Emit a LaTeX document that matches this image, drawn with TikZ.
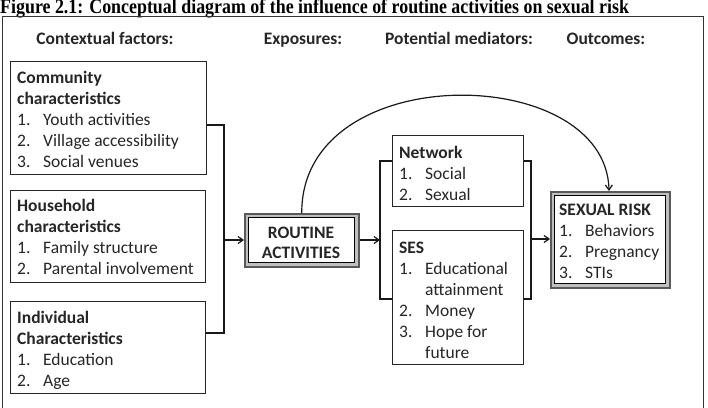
\documentclass[tikz,border=0pt]{standalone}
\usepackage{fontspec}
\setmainfont{Carlito}
\newfontfamily\titlefont{Liberation Serif}
\usetikzlibrary{calc,arrows.meta}
\newcommand\itm[2]{\makebox[26pt][l]{#1}#2}
\newcommand\fl{\rule{0pt}{14pt}}
\tikzset{
  box/.style={draw=black!85,line width=1.2pt,rectangle,inner sep=0pt,anchor=north west},
  txt/.style={inner sep=0pt,anchor=north west,align=left,font=\fontsize{17.5}{21}\selectfont,text=black!85},
  hdr/.style={inner sep=0pt,anchor=base,font=\fontsize{17.5}{21}\selectfont\bfseries,text=black!85},
  conn/.style={draw=black!90,line width=1.2pt},
  arr/.style={conn,-{Straight Barb[length=5pt,width=7pt]}},
  dblout/.style={draw=black!65,fill=black!25,line width=1.5pt,rectangle,inner sep=0pt,anchor=north west},
  dblin/.style={draw=black,fill=white,line width=1pt,rectangle,inner sep=0pt,anchor=center}
}
\begin{document}
\begin{tikzpicture}[x=1pt,y=-1pt]
\clip (0,0) rectangle (708,407);
\fill[white] (0,0) rectangle (708,407);
% title
\node[inner sep=0pt,anchor=base west,font=\titlefont\bfseries\fontsize{17.9}{20}\selectfont,yscale=1.15] (title) at (0,13) {Figure 2.1: Conceptual diagram of the influence of routine activities on sexual risk};
% frame
\node[draw=black!80,line width=1.2pt,rectangle,inner sep=0pt,anchor=north west,minimum width=701,minimum height=420] (frame) at (2,16) {};
% headers
\node[hdr] (h1) at (105,44) {Contextual factors:};
\node[hdr] (h2) at (303,44) {Exposures:};
\node[hdr] (h3) at (459,44) {Potential mediators:};
\node[hdr] (h4) at (606,44) {Outcomes:};
% left boxes
\node[box,minimum width=196,minimum height=113] (comm) at (10,61) {};
\node[txt] (commT) at (17,69) {\fl\textbf{Community}\\\textbf{characteristics}\\\itm{1.}{Youth activities}\\\itm{2.}{Village accessibility}\\\itm{3.}{Social venues}};
\node[box,minimum width=195,minimum height=92] (house) at (10,190) {};
\node[txt] (houseT) at (17,197) {\fl\textbf{Household}\\\textbf{characteristics}\\\itm{1.}{Family structure}\\\itm{2.}{Parental involvement}};
\node[box,minimum width=195,minimum height=92] (indiv) at (10,301) {};
\node[txt] (indivT) at (17,309) {\fl\textbf{Individual}\\\textbf{Characteristics}\\\itm{1.}{Education}\\\itm{2.}{Age}};
% routine activities
\node[dblout,minimum width=114,minimum height=53] (routO) at (244,213) {};
\node[dblin,minimum width=106,minimum height=45] (rout) at (routO.center) {};
\node[inner sep=0pt,anchor=north,align=center,font=\fontsize{17.5}{20}\selectfont\bfseries,text=black!85] (routT) at (301,224) {\fl ROUTINE\\ACTIVITIES};
% mediators
\node[box,minimum width=131,minimum height=71] (net) at (392,135) {};
\node[txt] (netT) at (399,144) {\fl\textbf{Network}\\\itm{1.}{Social}\\\itm{2.}{Sexual}};
\node[box,minimum width=131,minimum height=134] (ses) at (392,230) {};
\node[txt] (sesT) at (399,239) {\fl\textbf{SES}\\\itm{1.}{Educational}\\\itm{}{attainment}\\\itm{2.}{Money}\\\itm{3.}{Hope for}\\\itm{}{future}};
% outcome
\node[dblout,minimum width=119,minimum height=96] (riskO) at (550,191) {};
\node[dblin,minimum width=111,minimum height=88] (risk) at (riskO.center) {};
\node[txt] (riskT) at (559,201) {\fl\textbf{SEXUAL RISK}\\\itm{1.}{Behaviors}\\\itm{2.}{Pregnancy}\\\itm{3.}{STIs}};
% connectors
\coordinate (b1) at (224,240);
\draw[conn] (comm.east |- 0,125) -| (b1) |- (indiv.east |- 0,333);
\draw[arr] (b1) -- (routO.west |- b1);
\coordinate (b2) at (380,240);
\draw[conn] (net.west |- 0,161) -| (b2) |- (ses.west |- 0,299);
\draw[arr] (routO.east |- b2) -- (b2);
\coordinate (b3) at (531,239);
\draw[conn] (net.east |- 0,161) -| (b3) |- (ses.east |- 0,299);
\draw[arr] (b3) -- (riskO.west |- b3);
\draw[arr] (routO.north) .. controls (301,58) and (606,62) .. (riskO.north -| 609,0);
\end{tikzpicture}
\end{document}
